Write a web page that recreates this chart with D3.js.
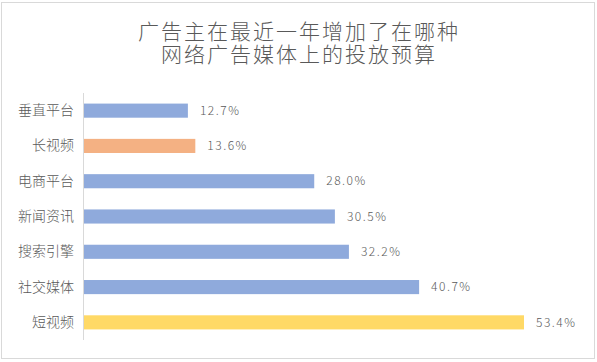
<!DOCTYPE html>
<html>
<head>
<meta charset="utf-8">
<script src="https://cdn.jsdelivr.net/npm/d3@7"></script>
<style>
  html, body { margin: 0; padding: 0; background: #fff; }
  svg { display: block; }
</style>
</head>
<body>
<svg id="chart" width="597" height="362"></svg>
<script>
// chart data
const categories = ['垂直平台', '长视频', '电商平台', '新闻资讯', '搜索引擎', '社交媒体', '短视频'];
const values = [12.7, 13.6, 28.0, 30.5, 32.2, 40.7, 53.4];
const barColors = ['#8FAADC', '#F4B183', '#8FAADC', '#8FAADC', '#8FAADC', '#8FAADC', '#FFD966'];
const titleLines = ['广告主在最近一年增加了在哪种', '网络广告媒体上的投放预算'];

const font = '"Noto Sans CJK SC", "Microsoft YaHei", sans-serif';
const textColor = '#595959';

const svg = d3.select('#chart');

// chart frame
svg.append('rect')
  .attr('x', 1.5)
  .attr('y', 2.5)
  .attr('width', 593)
  .attr('height', 356)
  .attr('fill', '#fff')
  .attr('stroke', '#D9D9D9');

// title, two lines in one text
svg.append('text')
  .attr('text-anchor', 'middle')
  .attr('font-family', font)
  .attr('font-size', 21)
  .attr('font-weight', 300)
  .attr('letter-spacing', 2)
  .attr('fill', textColor)
  .selectAll('tspan')
  .data(titleLines)
  .enter()
  .append('tspan')
  .attr('x', 299)
  .attr('y', (d, i) => 38.5 + i * 23)
  .text(d => d);

// scales
const x = d3.scaleLinear().domain([0, 53.4]).range([83, 524]);
const y = d3.scaleBand().domain(categories).range([93, 340]).paddingInner(0.6).paddingOuter(0.3);

// bars
svg.append('g')
  .selectAll('rect')
  .data(values)
  .enter()
  .append('rect')
  .attr('x', x(0))
  .attr('y', (d, i) => y(categories[i]))
  .attr('width', d => x(d) - x(0))
  .attr('height', y.bandwidth())
  .attr('fill', (d, i) => barColors[i]);

// value labels
svg.append('g')
  .selectAll('text')
  .data(values)
  .enter()
  .append('text')
  .attr('x', d => x(d) + 12)
  .attr('y', (d, i) => y(categories[i]) + y.bandwidth() / 2)
  .attr('dy', '0.35em')
  .attr('font-family', font)
  .attr('font-size', 12)
  .attr('font-weight', 300)
  .attr('letter-spacing', 1.5)
  .attr('fill', textColor)
  .text(d => d.toFixed(1) + '%');

// category axis
const yAxis = svg.append('g')
  .attr('transform', `translate(${x(0)},0)`)
  .call(d3.axisLeft(y).tickSize(0).tickPadding(9));

yAxis.select('.domain')
  .attr('d', 'M0.5,93V340')
  .attr('stroke', '#D9D9D9');

yAxis.selectAll('text')
  .attr('font-family', font)
  .attr('font-size', 14)
  .attr('font-weight', 300)
  .attr('fill', textColor);
</script>
</body>
</html>
